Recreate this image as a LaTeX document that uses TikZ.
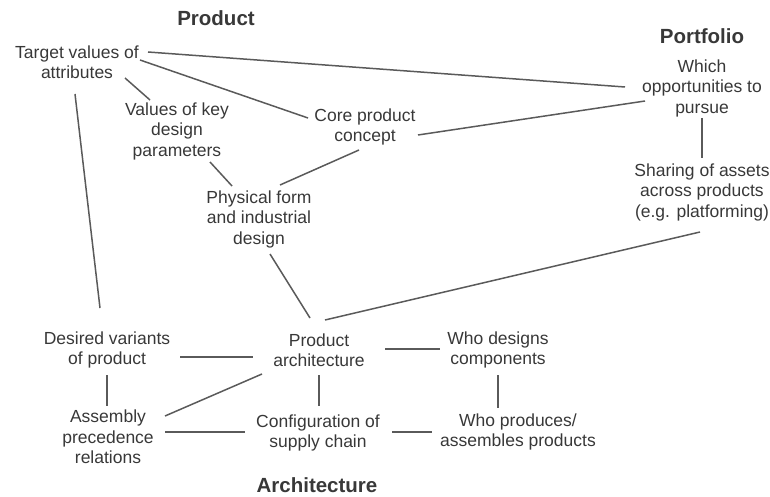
\documentclass[tikz,border=0pt]{standalone}
\usepackage{fontspec}
\setmainfont{Liberation Sans}
\usetikzlibrary{calc}
\definecolor{txt}{HTML}{383838}
\definecolor{ln}{HTML}{5A5A5A}
\begin{document}
\begin{tikzpicture}[x=1pt,y=-1pt,
  lbl/.style={align=center,inner sep=0pt,text=txt,font=\fontsize{17.5}{20.5}\selectfont},
  ttl/.style={inner sep=0pt,text=txt,font=\fontsize{20.5}{24}\selectfont\bfseries},
  conn/.style={draw=ln,line width=1.5pt}]
\useasboundingbox (0,0) rectangle (770,497);
\node[ttl] (prodT) at (216,18) {Product};
\node[ttl] (portT) at (702,36) {Portfolio};
\node[ttl] (archT) at (317,485) {Architecture};
\node[lbl] (target) at (77,62) {Target values of\\attributes};
\node[lbl] (values) at (177,131) {Values of key\\design\\parameters};
\node[lbl] (core) at (365,127) {Core product\\concept};
\node[lbl] (phys) at (259,219) {Physical form\\and industrial\\design};
\node[lbl] (which) at (702,88) {Which\\opportunities to\\pursue};
\node[lbl] (sharing) at (702,192) {Sharing of assets\\across products\\(e.g. platforming)};
\node[lbl] (desired) at (107,350) {Desired variants\\of product};
\node[lbl] (parch) at (319,350) {Product\\architecture};
\node[lbl] (whod) at (498,350) {Who designs\\components};
\node[lbl] (assembly) at (108,437) {Assembly\\precedence\\relations};
\node[lbl] (config) at (318,433) {Configuration of\\supply chain};
\node[lbl] (whop) at (518,432) {Who produces/\\assembles products};
\draw[conn] ($(target)+(71,-10)$) -- ($(which)+(-77,-1)$);
\draw[conn] ($(target)+(63,-2)$) -- ($(core)+(-57,-9)$);
\draw[conn] ($(target)+(48,16)$) -- ($(values)+(-27,-31)$);
\draw[conn] ($(target)+(-2,32)$) -- ($(desired)+(-7,-42)$);
\draw[conn] ($(values)+(33,31)$) -- ($(phys)+(-27,-33)$);
\draw[conn] ($(core)+(-6,23)$) -- ($(phys)+(21,-34)$);
\draw[conn] ($(core)+(53,8)$) -- ($(which)+(-57,13)$);
\draw[conn] ($(which)+(0,30)$) -- ($(sharing)+(0,-34)$);
\draw[conn] ($(phys)+(11,35)$) -- ($(parch)+(-9,-32)$);
\draw[conn] ($(sharing)+(-2,40)$) -- ($(parch)+(6,-30)$);
\draw[conn] ($(desired)+(73,7)$) -- ($(parch)+(-66,7)$);
\draw[conn] ($(parch)+(66,-1)$) -- ($(whod)+(-58,-1)$);
\draw[conn] ($(desired)+(0,25)$) -- ($(assembly)+(-1,-31)$);
\draw[conn] ($(parch)+(-57,24)$) -- ($(assembly)+(57,-21)$);
\draw[conn] ($(parch)+(0,25)$) -- ($(config)+(1,-27)$);
\draw[conn] ($(assembly)+(57,-5)$) -- ($(config)+(-73,-1)$);
\draw[conn] ($(config)+(74,-1)$) -- ($(whop)+(-86,0)$);
\draw[conn] ($(whod)+(0,25)$) -- ($(whop)+(-20,-24)$);
\end{tikzpicture}
\end{document}
